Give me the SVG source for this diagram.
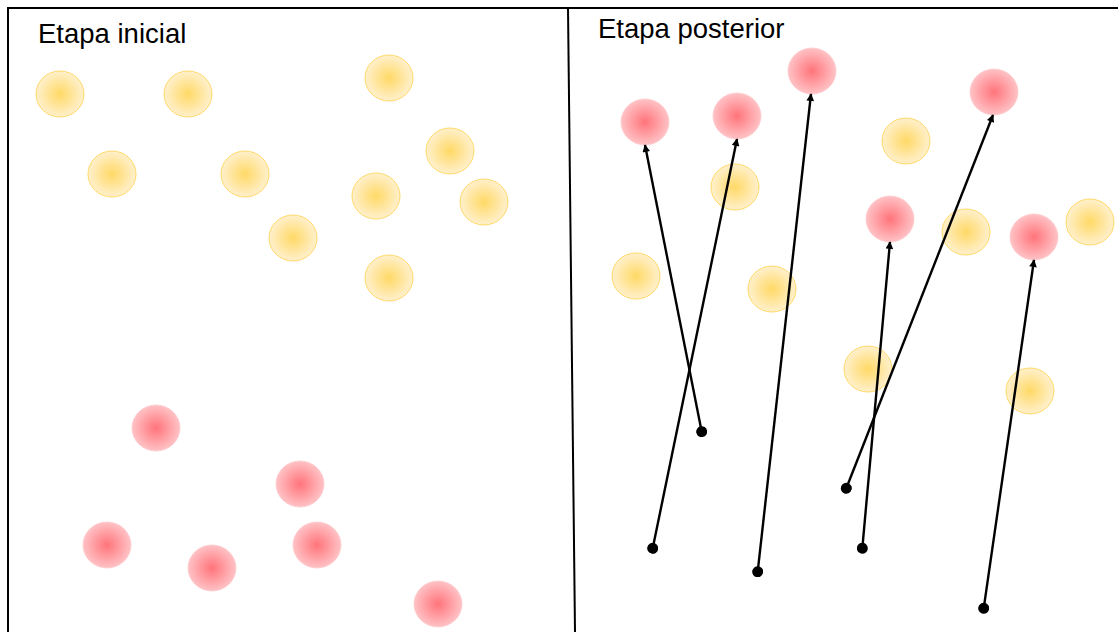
<svg xmlns="http://www.w3.org/2000/svg" width="1118" height="632" viewBox="0 0 1118 632">
<defs>
<radialGradient id="gy" cx="50%" cy="50%" r="50%">
<stop offset="0" stop-color="#FFD966"/>
<stop offset="1" stop-color="#FFF0CC"/>
</radialGradient>
<radialGradient id="gr" cx="50%" cy="50%" r="50%">
<stop offset="0" stop-color="#FF747B"/>
<stop offset="1" stop-color="#FFC2C5"/>
</radialGradient>
<marker id="ah" viewBox="0 0 10 10" refX="9" refY="5" markerWidth="3.5" markerHeight="3.2" orient="auto" markerUnits="strokeWidth">
<path d="M0,0 L10,5 L0,10 z" fill="#000"/>
</marker>
<marker id="dot" viewBox="0 0 10 10" refX="5" refY="5" markerWidth="4.6" markerHeight="4.6" orient="auto" markerUnits="strokeWidth">
<circle cx="5" cy="5" r="5" fill="#000"/>
</marker>
</defs>
<style>
.y{fill:url(#gy);stroke:#FFD966;stroke-width:1}
.r{fill:url(#gr);stroke:#FFC8CB;stroke-width:0.75}
.t{font-family:"Liberation Sans",Arial,sans-serif;font-size:27.5px;fill:#000}
.a{stroke:#000;stroke-width:2.4;fill:none;marker-end:url(#ah);marker-start:url(#dot)}
.f{stroke:#000;stroke-width:2;fill:none}
</style>
<rect width="1118" height="632" fill="#fff"/>
<g id="frame">
<path class="f" d="M8,632 L8,8 L1118,8"/>
<line class="f" x1="568" y1="8" x2="575" y2="632"/>
</g>
<g id="label-inicial"><text class="t" x="38" y="42.5">Etapa inicial</text></g>
<g id="label-posterior"><text class="t" x="598" y="38">Etapa posterior</text></g>
<g id="left-yellow">
<ellipse class="y" cx="60" cy="94" rx="24" ry="23"/>
<ellipse class="y" cx="188" cy="94" rx="24" ry="23"/>
<ellipse class="y" cx="389" cy="78" rx="24" ry="23"/>
<ellipse class="y" cx="112" cy="174" rx="24" ry="23"/>
<ellipse class="y" cx="245" cy="174" rx="24" ry="23"/>
<ellipse class="y" cx="450" cy="151" rx="24" ry="23"/>
<ellipse class="y" cx="376" cy="196" rx="24" ry="23"/>
<ellipse class="y" cx="484" cy="202" rx="24" ry="23"/>
<ellipse class="y" cx="293" cy="238" rx="24" ry="23"/>
<ellipse class="y" cx="389" cy="278" rx="24" ry="23"/>
</g>
<g id="left-red">
<ellipse class="r" cx="156" cy="428" rx="24" ry="23"/>
<ellipse class="r" cx="300" cy="484" rx="24" ry="23"/>
<ellipse class="r" cx="107" cy="545" rx="24" ry="23"/>
<ellipse class="r" cx="212" cy="568" rx="24" ry="23"/>
<ellipse class="r" cx="317" cy="545" rx="24" ry="23"/>
<ellipse class="r" cx="438" cy="604" rx="24" ry="23"/>
</g>
<g id="right-yellow">
<ellipse class="y" cx="906" cy="141" rx="24" ry="23"/>
<ellipse class="y" cx="735" cy="187" rx="24" ry="23"/>
<ellipse class="y" cx="966" cy="232" rx="24" ry="23"/>
<ellipse class="y" cx="1090" cy="222" rx="24" ry="23"/>
<ellipse class="y" cx="636" cy="276" rx="24" ry="23"/>
<ellipse class="y" cx="772" cy="289" rx="24" ry="23"/>
<ellipse class="y" cx="868" cy="369" rx="24" ry="23"/>
<ellipse class="y" cx="1030" cy="391" rx="24" ry="23"/>
</g>
<g id="right-red">
<ellipse class="r" cx="645" cy="122" rx="24" ry="23"/>
<ellipse class="r" cx="737" cy="116" rx="24" ry="23"/>
<ellipse class="r" cx="812" cy="71" rx="24" ry="23"/>
<ellipse class="r" cx="994" cy="92" rx="24" ry="23"/>
<ellipse class="r" cx="890" cy="219" rx="24" ry="23"/>
<ellipse class="r" cx="1034" cy="237" rx="24" ry="23"/>
</g>
<g id="connectors">
<line class="a" x1="701.7" y1="431.7" x2="645" y2="145"/>
<line class="a" x1="652.7" y1="548.3" x2="737" y2="139"/>
<line class="a" x1="757.7" y1="571.7" x2="811" y2="94"/>
<line class="a" x1="846.3" y1="488.3" x2="993" y2="115"/>
<line class="a" x1="862.3" y1="548.3" x2="890" y2="242"/>
<line class="a" x1="983.7" y1="608.3" x2="1034" y2="260"/>
</g>
</svg>
